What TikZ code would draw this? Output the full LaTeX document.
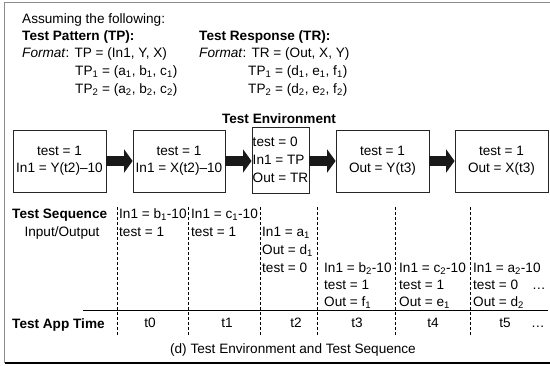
\documentclass[tikz,border=0pt]{standalone}
\usepackage{fontspec}
\setmainfont{Liberation Sans}
\usetikzlibrary{arrows.meta}

\tikzset{
  envbox/.style={draw=black!85, line width=0.8pt, inner sep=2pt, minimum height=62pt, align=center},
  flowarrow/.style={draw=black!90, line width=10pt, -{Triangle[length=8.5pt,width=23pt]}},
  seqline/.style={densely dashed, line width=0.7pt},
  lbl/.style={inner sep=0pt, anchor=base west},
}

\begin{document}
\begin{tikzpicture}[x=1pt,y=-1pt,font=\fontsize{13.6}{17}\selectfont]
\useasboundingbox (0,0) rectangle (550,365);
% outer frame
\draw[black!45, line width=1.2pt] (4.5,363) -- (4.5,2.5) -- (552,2.5);
\draw[line width=1.2pt] (4.5,363) -- (552,363);

% assumptions
\node[lbl] (assume) at (22,23) {Assuming the following:};
\node[lbl] (tphead) at (22,40) {\textbf{Test Pattern (TP):}};
\node[lbl] (tpfmt) at (22,57.5) {\textit{Format}: TP = (In1, Y, X)};
\node[lbl] (tpone) at (75,75) {TP\textsubscript{1} = (a\textsubscript{1}, b\textsubscript{1}, c\textsubscript{1})};
\node[lbl] (tptwo) at (75,93) {TP\textsubscript{2} = (a\textsubscript{2}, b\textsubscript{2}, c\textsubscript{2})};
\node[lbl] (trhead) at (199,40) {\textbf{Test Response (TR):}};
\node[lbl] (trfmt) at (199,57.5) {\textit{Format}: TR = (Out, X, Y)};
\node[lbl] (trone) at (248,75) {TP\textsubscript{1} = (d\textsubscript{1}, e\textsubscript{1}, f\textsubscript{1})};
\node[lbl] (trtwo) at (248,93) {TP\textsubscript{2} = (d\textsubscript{2}, e\textsubscript{2}, f\textsubscript{2})};

% test environment
\node[inner sep=0pt, anchor=base] (envtitle) at (279,123) {\textbf{Test Environment}};
\node[envbox, minimum width=93pt] (e1) at (59.5,161) {test = 1\\In1 = Y(t2)--10};
\node[envbox, minimum width=92pt] (e2) at (179,161) {test = 1\\In1 = X(t2)--10};
\node[envbox, inner sep=0.8pt, minimum width=57pt, minimum height=66pt, align=left] (e3) at (280.5,160)
  {test = 0\\[1pt]In1 = TP\\[1pt]Out = TR};
\node[envbox, minimum width=93pt] (e4) at (382.5,161) {test = 1\\Out = Y(t3)};
\node[envbox, minimum width=93pt] (e5) at (501.5,161) {test = 1\\Out = X(t3)};
\draw[flowarrow] (e1.east) -- (e2.west);
\draw[flowarrow] (e2.east) -- (e3.west |- e2.east);
\draw[flowarrow] (e3.east |- e4.west) -- (e4.west);
\draw[flowarrow] (e4.east) -- (e5.west);

% test sequence
\node[lbl] (seqhead) at (12,218) {\textbf{Test Sequence}};
\node[inner sep=0pt, anchor=base] (iohead) at (62,236) {Input/Output};
\foreach \x/\y/\t [count=\i] in {
  119/218/{In1 = b\textsubscript{1}-10}, 119/236/{test = 1},
  191/218/{In1 = c\textsubscript{1}-10}, 191/236/{test = 1},
  262/236/{In1 = a\textsubscript{1}}, 262/254/{Out = d\textsubscript{1}}, 262/272/{test = 0},
  324/272/{In1 = b\textsubscript{2}-10}, 324/289/{test = 1}, 324/306/{Out = f\textsubscript{1}},
  399/272/{In1 = c\textsubscript{2}-10}, 399/289/{test = 1}, 399/306/{Out = e\textsubscript{1}},
  473/272/{In1 = a\textsubscript{2}-10}, 473/289/{test = 0}, 473/306/{Out = d\textsubscript{2}},
  532/289/{\textellipsis}}
  \node[lbl] (seq\i) at (\x,\y) {\t};

% time axis
\coordinate (axisl) at (83,310);
\coordinate (axisr) at (548,310);
\draw[line width=1pt] (axisl) -- (axisr);
\foreach \x [count=\i] in {117,188,260,317,395,470} {
  \coordinate (top\i) at (\x,207);
  \coordinate (bot\i) at (\x,335);
  \draw[seqline] (top\i) -- (bot\i);
}
\node[lbl] (apphead) at (12,328) {\textbf{Test App Time}};
\foreach \x/\t [count=\i] in {150/t0,227/t1,296/t2,357/t3,433/t4,505/t5,538/\textellipsis}
  \node[inner sep=0pt, anchor=base] (time\i) at (\x,327) {\t};

\node[inner sep=0pt, anchor=base] (caption) at (293,353) {(d) Test Environment and Test Sequence};
\end{tikzpicture}
\end{document}
